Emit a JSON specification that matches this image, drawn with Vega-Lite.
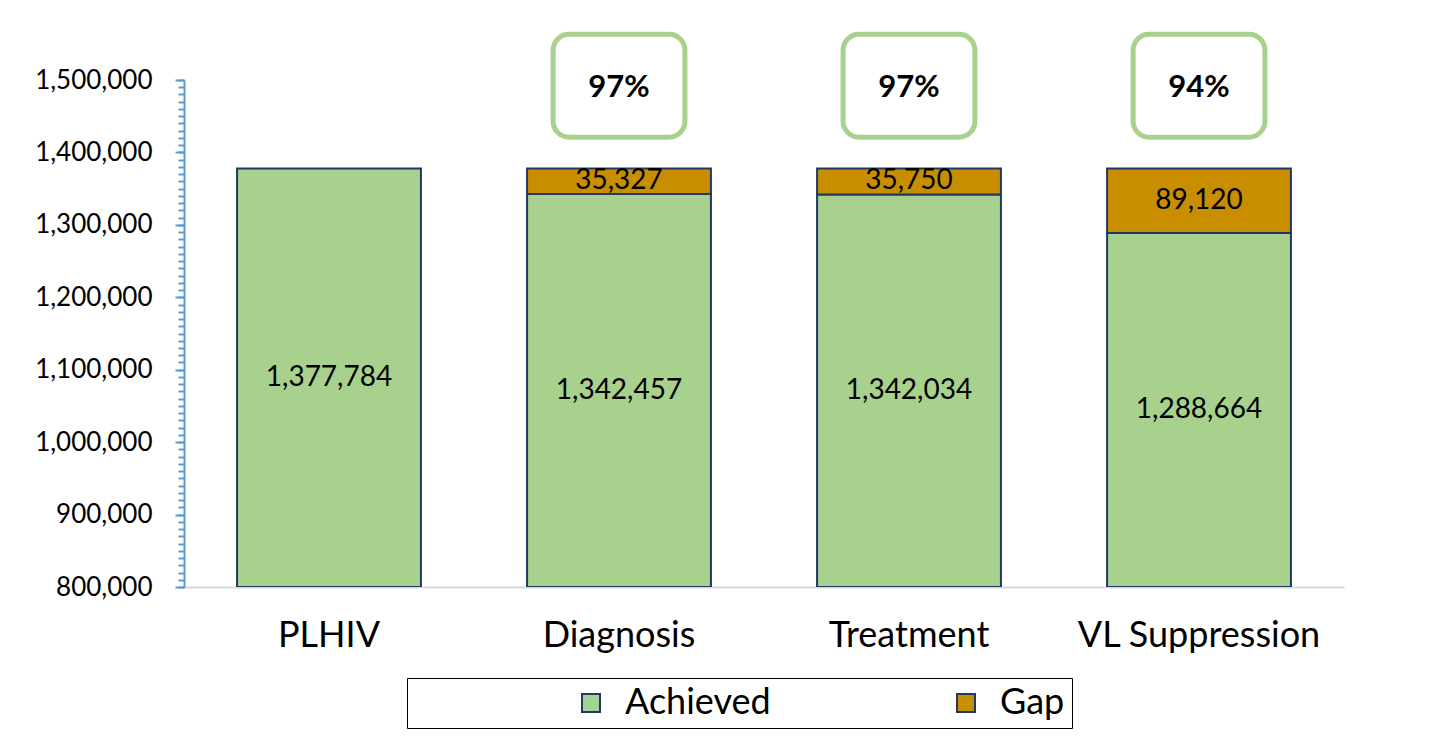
{
  "$schema": "https://vega.github.io/schema/vega-lite/v6.json",
  "width": 1160,
  "height": 507,
  "autosize": {"type": "none"},
  "padding": {"left": 184, "top": 80, "right": 101, "bottom": 164},
  "background": "white",
  "config": {"view": {"stroke": null}, "font": "Lato", "text": {"font": "Lato"}},
  "datasets": {
    "achieved": [
      {"stage": "PLHIV", "value": 1377784},
      {"stage": "Diagnosis", "value": 1342457},
      {"stage": "Treatment", "value": 1342034},
      {"stage": "VL Suppression", "value": 1288664}
    ],
    "gaps": [
      {"stage": "Diagnosis", "from": 1342457, "to": 1377784, "gap": 35327},
      {"stage": "Treatment", "from": 1342034, "to": 1377784, "gap": 35750},
      {"stage": "VL Suppression", "from": 1288664, "to": 1377784, "gap": 89120}
    ],
    "pct": [
      {"stage": "Diagnosis", "pct": "97%"},
      {"stage": "Treatment", "pct": "97%"},
      {"stage": "VL Suppression", "pct": "94%"}
    ]
  },
  "encoding": {
    "x": {
      "field": "stage",
      "type": "nominal",
      "sort": ["PLHIV", "Diagnosis", "Treatment", "VL Suppression"],
      "scale": {"paddingInner": 0.366, "paddingOuter": 0.183},
      "axis": {
        "title": null,
        "labelAngle": 0,
        "labelFont": "Lato",
        "labelFontSize": 36,
        "labelColor": "black",
        "labelPadding": 31,
        "ticks": false,
        "domainColor": "#D9D9D9",
        "domainWidth": 2,
        "labelLimit": 400
      }
    }
  },
  "layer": [
    {
      "layer": [
        {
          "data": {"name": "achieved"},
          "mark": {"type": "bar", "stroke": "#1F3864", "strokeWidth": 2, "clip": true},
          "encoding": {
            "y": {
              "field": "value",
              "type": "quantitative",
              "stack": null,
              "scale": {"domain": [800000, 1500000], "zero": false, "nice": false},
              "axis": {
                "title": null,
                "orient": "left",
                "values": [800000, 900000, 1000000, 1100000, 1200000, 1300000, 1400000, 1500000],
                "format": ",.0f",
                "labelExpr": "format(datum.value, ',.0f')",
                "labelFont": "Lato",
                "labelFontSize": 26,
                "labelColor": "black",
                "labelPadding": 23,
                "domainColor": "#5B9BD5",
                "domainWidth": 2,
                "tickColor": "#5B9BD5",
                "tickWidth": 2,
                "tickSize": 9,
                "grid": false
              }
            },
            "color": {
              "datum": "Achieved",
              "scale": {"domain": ["Achieved", "Gap"], "range": ["#A9D18E", "#C98E00"]},
              "legend": {
                "orient": "none",
                "legendX": 223,
                "legendY": 598,
                "direction": "horizontal",
                "columns": 2,
                "gridAlign": "all",
                "title": " ",
                "titleOrient": "left",
                "titlePadding": 159,
                "titleFontSize": 34,
                "labelFont": "Lato",
                "labelFontSize": 36,
                "labelColor": "black",
                "labelLimit": 400,
                "labelOffset": 16,
                "columnPadding": 177,
                "symbolType": "square",
                "symbolSize": 324,
                "symbolStrokeColor": "#1F3864",
                "symbolStrokeWidth": 2,
                "padding": 7,
                "strokeColor": "black"
              }
            }
          }
        },
        {
          "data": {"name": "gaps"},
          "mark": {"type": "bar", "stroke": "#1F3864", "strokeWidth": 2},
          "encoding": {
            "y": {
              "field": "from",
              "type": "quantitative",
              "stack": null,
              "scale": {"domain": [800000, 1500000], "zero": false, "nice": false},
              "axis": {
                "title": null,
                "orient": "left",
                "tickCount": 70,
                "labels": false,
                "domain": false,
                "grid": false,
                "tickColor": "#5B9BD5",
                "tickWidth": 2,
                "tickSize": 6
              }
            },
            "y2": {"field": "to"},
            "color": {"datum": "Gap"}
          }
        },
        {
          "data": {"name": "pct"},
          "mark": {"type": "bar", "width": {"band": 0.717}, "cornerRadius": 16, "fill": "white", "stroke": "#A9D18E", "strokeWidth": 5},
          "encoding": {
            "y": {"datum": 1563000, "type": "quantitative", "axis": null},
            "y2": {"datum": 1421000}
          }
        },
        {
          "data": {"name": "pct"},
          "mark": {"type": "text", "font": "Lato", "fontSize": 31, "fontWeight": "bold", "color": "black", "baseline": "middle"},
          "encoding": {
            "y": {"datum": 1489600, "type": "quantitative", "axis": null},
            "text": {"field": "pct"}
          }
        }
      ],
      "resolve": {"axis": {"y": "independent"}}
    },
    {
      "data": {"name": "achieved"},
      "mark": {"type": "text", "font": "Lato", "fontSize": 28, "color": "black", "baseline": "middle"},
      "encoding": {
        "y": {"field": "value", "type": "quantitative", "scale": {"domain": [800000, 2200000], "zero": false, "nice": false}, "axis": null},
        "text": {"field": "value", "type": "quantitative", "format": ","}
      }
    },
    {
      "data": {"name": "gaps"},
      "mark": {"type": "text", "font": "Lato", "fontSize": 28, "color": "black", "baseline": "middle"},
      "encoding": {
        "y": {"field": "from", "type": "quantitative", "scale": {"domain": [222216, 1622216], "zero": false, "nice": false}, "axis": null},
        "text": {"field": "gap", "type": "quantitative", "format": ","}
      }
    }
  ],
  "resolve": {"scale": {"y": "independent"}, "axis": {"y": "independent"}}
}
